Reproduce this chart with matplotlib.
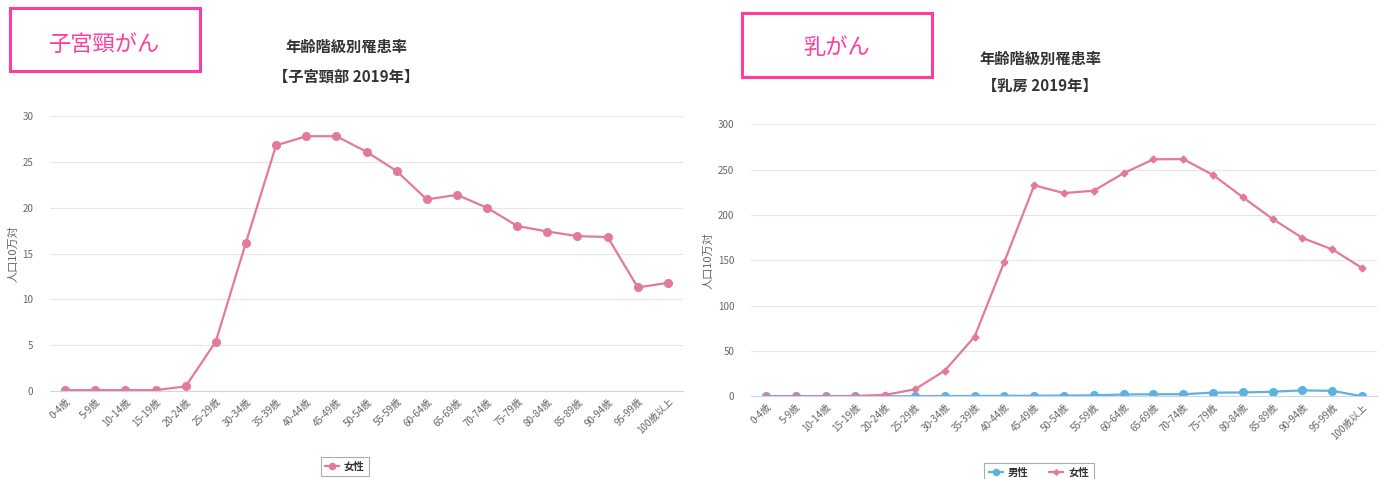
import matplotlib
matplotlib.use("Agg")
import matplotlib.pyplot as plt
from matplotlib.patches import Rectangle

plt.rcParams['font.family'] = ['Noto Sans CJK JP', 'DejaVu Sans']

ages = ["0-4歳", "5-9歳", "10-14歳", "15-19歳", "20-24歳", "25-29歳", "30-34歳",
        "35-39歳", "40-44歳", "45-49歳", "50-54歳", "55-59歳", "60-64歳", "65-69歳",
        "70-74歳", "75-79歳", "80-84歳", "85-89歳", "90-94歳", "95-99歳", "100歳以上"]

# 子宮頸部 女性
cervix_female = [0.1, 0.1, 0.1, 0.1, 0.5, 5.4, 16.2, 26.8, 27.8, 27.8, 26.1,
                 24.0, 20.9, 21.4, 20.0, 18.0, 17.4, 16.9, 16.8, 11.3, 11.8]

# 乳房 男性 / 女性
breast_male = [0, 0, 0, 0, 0, 0.1, 0.2, 0.3, 0.5, 0.6, 0.8,
               1.0, 2.0, 2.2, 2.3, 4.0, 4.2, 5.0, 6.5, 6.0, 0]
breast_female = [0, 0, 0, 0.4, 1.5, 7.7, 28.2, 65.7, 148.4, 232.6, 224.0,
                 226.7, 246.0, 261.3, 261.5, 244.0, 219.4, 195.5, 174.5, 162.0, 141.4]

pink = "#e3799c"
blue = "#5db3e0"
box_pink = "#ff3d9e"

fig = plt.figure(figsize=(13.82, 4.79), dpi=100)


def style_axis(ax, ymax, step, label_x):
    x = range(len(ages))
    ax.set_xlim(-0.5, len(ages) - 0.5)
    ax.set_ylim(0, ymax)
    ax.set_yticks(range(0, ymax + 1, step))
    ax.set_xticks(list(x))
    ax.set_xticklabels(ages, rotation=45, ha="right", rotation_mode="anchor",
                       fontsize=7, color="#666666")
    ax.tick_params(axis="y", labelsize=7, labelcolor="#666666", length=0, pad=12)
    ax.tick_params(axis="x", length=0, pad=4)
    ax.grid(axis="y", color="#e6e6e6", linewidth=0.8)
    ax.set_axisbelow(True)
    for s in ["top", "right", "left"]:
        ax.spines[s].set_visible(False)
    ax.spines["bottom"].set_color("#ccd6eb")
    ax.spines["bottom"].set_linewidth(0.8)
    ax.set_ylabel("人口10万対", fontsize=8, color="#666666")
    ax.yaxis.set_label_coords(label_x, 0.5)


def style_legend(leg):
    leg.get_frame().set_linewidth(0.8)
    for t in leg.get_texts():
        t.set_fontweight("bold")
        t.set_color("#333333")


# left chart
ax1 = fig.add_axes([0.0362, 0.1837, 0.458, 0.574])
ax1.plot(range(len(ages)), cervix_female, color=pink, lw=1.6, marker="o",
         markersize=5.5, label="女性")
style_axis(ax1, 30, 5, -0.05)
leg = ax1.legend(loc="upper center", bbox_to_anchor=(0.466, -0.22), fontsize=7.5,
                 frameon=True, fancybox=False, edgecolor="#999999", handlelength=1.3,
                 borderpad=0.45, markerscale=0.8, handletextpad=0.5)
style_legend(leg)

# right chart
ax2 = fig.add_axes([0.5434, 0.1727, 0.453, 0.568])
ax2.plot(range(len(ages)), breast_male, color=blue, lw=1.6, marker="o",
         markersize=5.5, label="男性")
ax2.plot(range(len(ages)), breast_female, color=pink, lw=1.6, marker="D",
         markersize=3.5, label="女性")
style_axis(ax2, 300, 50, -0.06)
leg2 = ax2.legend(loc="upper center", bbox_to_anchor=(0.46, -0.225), fontsize=7.5,
                  ncol=2, frameon=True, fancybox=False, edgecolor="#999999",
                  handlelength=1.3, columnspacing=2.0, borderpad=0.45,
                  markerscale=0.8, handletextpad=0.5)
style_legend(leg2)

# titles
fig.text(346 / 1382, 1 - 47 / 479, "年齢階級別罹患率", ha="center", va="center",
         fontsize=11, fontweight="bold", color="#333333")
fig.text(346 / 1382, 1 - 77 / 479, "【子宮頸部 2019年】", ha="center", va="center",
         fontsize=11, fontweight="bold", color="#333333")
fig.text(1040 / 1382, 1 - 59 / 479, "年齢階級別罹患率", ha="center", va="center",
         fontsize=11, fontweight="bold", color="#333333")
fig.text(1040 / 1382, 1 - 86 / 479, "【乳房 2019年】", ha="center", va="center",
         fontsize=11, fontweight="bold", color="#333333")

# pink label boxes
fig.patches.append(Rectangle((10 / 1382, 1 - 71 / 479), 190 / 1382, 63 / 479,
                             transform=fig.transFigure, fill=False,
                             edgecolor=box_pink, linewidth=2.2))
fig.text(105 / 1382, 1 - 44 / 479, "子宮頸がん", ha="center", va="center",
         fontsize=16, color=box_pink)
fig.patches.append(Rectangle((742 / 1382, 1 - 77 / 479), 190 / 1382, 64 / 479,
                             transform=fig.transFigure, fill=False,
                             edgecolor=box_pink, linewidth=2.2))
fig.text(837 / 1382, 1 - 48 / 479, "乳がん", ha="center", va="center",
         fontsize=16, color=box_pink)

fig.savefig("out.png", dpi=100)
